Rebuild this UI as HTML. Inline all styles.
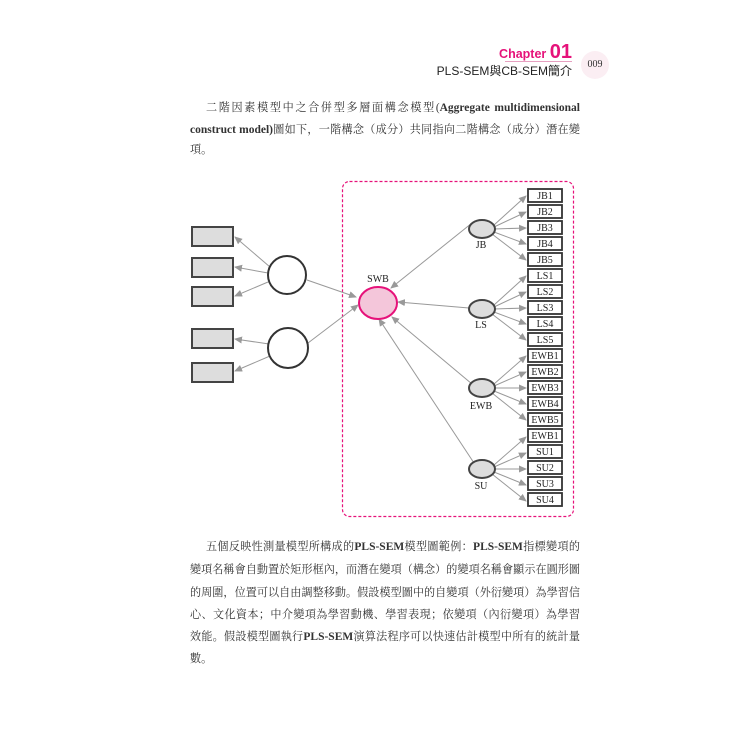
<!DOCTYPE html>
<html><head><meta charset="utf-8"><style>
body{margin:0;background:#fff;width:750px;height:750px;overflow:hidden;position:relative;font-family:"Liberation Serif","Noto Serif CJK SC",serif;}
.l{position:absolute;left:190px;width:390px;font-size:11.1px;color:#333;text-align:justify;text-align-last:justify;white-space:nowrap;line-height:16px;}
.l b{font-size:11.5px;}
.n{text-align-last:left;}
</style></head><body>
<div style="position:absolute;right:178px;top:41px;font-family:'Liberation Sans',sans-serif;font-weight:bold;color:#e6127a;font-size:12.5px;">Chapter <span style="font-size:20px">01</span></div>
<div style="position:absolute;left:505px;top:61px;width:67px;border-top:1px solid #e6a0c0;"></div>
<div style="position:absolute;right:178px;top:62px;font-family:'Liberation Sans','Noto Sans CJK TC',sans-serif;color:#222;font-size:12px;">PLS-SEM與CB-SEM簡介</div>
<div style="position:absolute;left:581px;top:51px;width:28px;height:28px;border-radius:50%;background:#fbeef3;font-size:10px;text-align:center;line-height:28px;color:#333;">009</div>

<div class="l" style="top:100px;left:206px;width:374px">二階因素模型中之合併型多層面構念模型(<b>Aggregate multidimensional</b></div>
<div class="l" style="top:122px"><b>construct model)</b>圖如下，一階構念（成分）共同指向二階構念（成分）潛在變</div>
<div class="l n" style="top:142px">項。</div>

<svg style="position:absolute;left:0;top:0" width="750" height="750" font-family="Liberation Serif, serif">
<defs><marker id="a" markerWidth="8" markerHeight="8" refX="7" refY="4" orient="auto" markerUnits="userSpaceOnUse"><path d="M0,0.5 L8,4 L0,7.5z" fill="#999"/></marker></defs>
<rect x="342.5" y="181.5" width="231" height="335" rx="7" fill="none" stroke="#e6127a" stroke-dasharray="3,2" stroke-width="1.2"/>
<g stroke="#999" stroke-width="1" marker-end="url(#a)" fill="none">
<line x1="270" y1="267" x2="235" y2="237"/>
<line x1="268" y1="273" x2="235" y2="267"/>
<line x1="268" y1="282" x2="235" y2="296"/>
<line x1="269" y1="344" x2="235" y2="339"/>
<line x1="270" y1="356" x2="235" y2="371"/>
<line x1="307" y1="280" x2="356" y2="297"/>
<line x1="308" y1="343" x2="358" y2="305"/>
<line x1="472" y1="223" x2="391" y2="288"/>
<line x1="469" y1="308" x2="398" y2="302"/>
<line x1="472" y1="384" x2="392" y2="317"/>
<line x1="474" y1="463" x2="379" y2="319"/>
</g>
<g stroke="#999" stroke-width="1" marker-end="url(#a)">
<line x1="494" y1="225" x2="526" y2="196"/><line x1="494" y1="227" x2="526" y2="212"/><line x1="494" y1="229" x2="526" y2="228"/><line x1="494" y1="232" x2="526" y2="244"/><line x1="492" y1="234" x2="526" y2="260"/>
<line x1="494" y1="305" x2="526" y2="276"/><line x1="494" y1="307" x2="526" y2="292"/><line x1="494" y1="309" x2="526" y2="308"/><line x1="494" y1="312" x2="526" y2="324"/><line x1="492" y1="314" x2="526" y2="340"/>
<line x1="494" y1="384" x2="526" y2="356"/><line x1="494" y1="386" x2="526" y2="372"/><line x1="494" y1="388" x2="526" y2="388"/><line x1="494" y1="391" x2="526" y2="404"/><line x1="492" y1="393" x2="526" y2="420"/>
<line x1="494" y1="465" x2="526" y2="437"/><line x1="494" y1="467" x2="526" y2="453"/><line x1="494" y1="469" x2="526" y2="469"/><line x1="494" y1="472" x2="526" y2="485"/><line x1="492" y1="474" x2="526" y2="501"/>
</g>
<g fill="#ddd" stroke="#444" stroke-width="2">
<rect x="192" y="227" width="41" height="19"/><rect x="192" y="258" width="41" height="19"/><rect x="192" y="287" width="41" height="19"/>
<rect x="192" y="329" width="41" height="19"/><rect x="192" y="363" width="41" height="19"/>
</g>
<g fill="#fff" stroke="#333" stroke-width="2">
<circle cx="287" cy="275" r="19"/><circle cx="288" cy="348" r="20"/>
</g>
<ellipse cx="378" cy="303" rx="19" ry="16" fill="#f4c6da" stroke="#e6127a" stroke-width="2"/>
<text x="378" y="282" font-size="10" text-anchor="middle" fill="#222">SWB</text>
<g fill="#ddd" stroke="#444" stroke-width="2">
<ellipse cx="482" cy="229" rx="13" ry="9"/><ellipse cx="482" cy="309" rx="13" ry="9"/><ellipse cx="482" cy="388" rx="13" ry="9"/><ellipse cx="482" cy="469" rx="13" ry="9"/>
</g>
<g font-size="10" text-anchor="middle" fill="#222">
<text x="481" y="248">JB</text><text x="481" y="328">LS</text><text x="481" y="409">EWB</text><text x="481" y="489">SU</text>
</g>
<g fill="#fff" stroke="#333" stroke-width="1.8">
<rect x="528" y="189" width="34" height="13"/><rect x="528" y="205" width="34" height="13"/><rect x="528" y="221" width="34" height="13"/><rect x="528" y="237" width="34" height="13"/><rect x="528" y="253" width="34" height="13"/>
<rect x="528" y="269" width="34" height="13"/><rect x="528" y="285" width="34" height="13"/><rect x="528" y="301" width="34" height="13"/><rect x="528" y="317" width="34" height="13"/><rect x="528" y="333" width="34" height="13"/>
<rect x="528" y="349" width="34" height="13"/><rect x="528" y="365" width="34" height="13"/><rect x="528" y="381" width="34" height="13"/><rect x="528" y="397" width="34" height="13"/><rect x="528" y="413" width="34" height="13"/>
<rect x="528" y="429" width="34" height="13"/><rect x="528" y="445" width="34" height="13"/><rect x="528" y="461" width="34" height="13"/><rect x="528" y="477" width="34" height="13"/><rect x="528" y="493" width="34" height="13"/>
</g>
<g font-size="10" text-anchor="middle" fill="#222">
<text x="545" y="199">JB1</text><text x="545" y="215">JB2</text><text x="545" y="231">JB3</text><text x="545" y="247">JB4</text><text x="545" y="263">JB5</text>
<text x="545" y="279">LS1</text><text x="545" y="295">LS2</text><text x="545" y="311">LS3</text><text x="545" y="327">LS4</text><text x="545" y="343">LS5</text>
<text x="545" y="359">EWB1</text><text x="545" y="375">EWB2</text><text x="545" y="391">EWB3</text><text x="545" y="407">EWB4</text><text x="545" y="423">EWB5</text>
<text x="545" y="439">EWB1</text><text x="545" y="455">SU1</text><text x="545" y="471">SU2</text><text x="545" y="487">SU3</text><text x="545" y="503">SU4</text>
</g>
</svg>

<div class="l" style="top:539px;left:206px;width:374px">五個反映性測量模型所構成的<b>PLS-SEM</b>模型圖範例：<b>PLS-SEM</b>指標變項的</div>
<div class="l" style="top:562px">變項名稱會自動置於矩形框內，而潛在變項（構念）的變項名稱會顯示在圓形圖</div>
<div class="l" style="top:585px">的周圍，位置可以自由調整移動。假設模型圖中的自變項（外衍變項）為學習信</div>
<div class="l" style="top:607px">心、文化資本；中介變項為學習動機、學習表現；依變項（內衍變項）為學習</div>
<div class="l" style="top:629px">效能。假設模型圖執行<b>PLS-SEM</b>演算法程序可以快速估計模型中所有的統計量</div>
<div class="l n" style="top:651px">數。</div>
</body></html>
